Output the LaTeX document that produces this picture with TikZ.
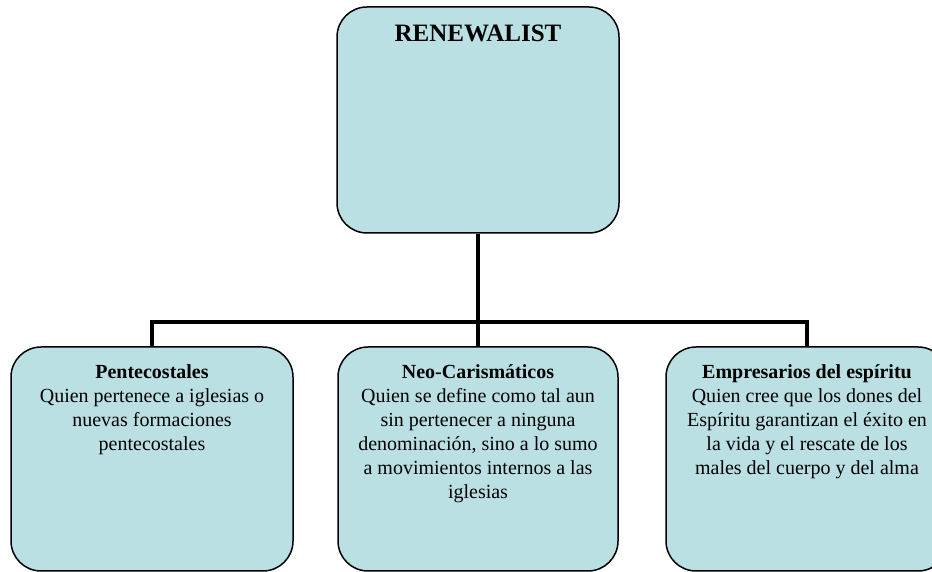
\documentclass[tikz,border=0pt]{standalone}
\usepackage{fontspec}
\setmainfont{Liberation Serif}
\usepackage{xcolor}
\usepackage{tikz}
\usetikzlibrary{positioning}
\definecolor{celeste}{RGB}{186,224,227}

\begin{document}
\begin{tikzpicture}[x=1pt,y=1pt,
  caja/.style={draw=black,line width=1.5pt,fill=celeste,rounded corners=30pt,minimum width=282pt,minimum height=224pt,inner sep=0pt},
  texto/.style={anchor=north,align=center,inner sep=0pt,font=\fontsize{20}{24}\selectfont},
  conector/.style={line width=4.5pt}]
\useasboundingbox (0,0) rectangle (932,572);
\node[caja,minimum height=226pt] (raiz) at (478,452) {};
\node[caja] (pente) at (152,113) {};
\node[caja,minimum width=280pt] (neo) at (478,113) {};
\node[caja] (empre) at (807,113) {};
\node[texto,font=\fontsize{25}{30}\selectfont\bfseries] (traiz) at ([yshift=-19pt]raiz.north) {RENEWALIST};
\node[texto] (tpente) at ([yshift=-18pt]pente.north) {\textbf{Pentecostales}\\Quien pertenece a iglesias o\\nuevas formaciones\\pentecostales};
\node[texto] (tneo) at ([yshift=-18pt]neo.north) {\textbf{Neo-Carismáticos}\\Quien se define como tal aun\\sin pertenecer a ninguna\\denominación, sino a lo sumo\\a movimientos internos a las\\iglesias};
\node[texto] (tempre) at ([yshift=-18pt]empre.north) {\textbf{Empresarios del espíritu}\\Quien cree que los dones del\\Espíritu garantizan el éxito en\\la vida y el rescate de los\\males del cuerpo y del alma};
\coordinate (union) at (478,250);
\draw[conector] (raiz.south) -- (union);
\draw[conector] (pente.north) |- (union) -| (empre.north);
\draw[conector] (union) -- (neo.north);
\end{tikzpicture}
\end{document}
